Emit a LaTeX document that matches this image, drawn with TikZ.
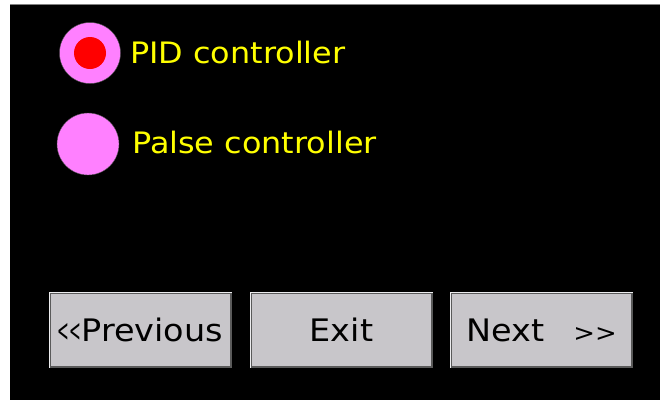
\documentclass[tikz,border=0pt]{standalone}
\usepackage{fontspec}
\usepackage{graphicx}
\newfontfamily\panelfont[FakeStretch=1.08]{DejaVu Sans}
\usetikzlibrary{positioning}
\definecolor{radiopink}{RGB}{255,128,255}
\definecolor{btngray}{RGB}{200,198,202}
\definecolor{btnshade}{RGB}{90,90,90}
\definecolor{btnlight}{RGB}{236,236,238}
\definecolor{lblyellow}{RGB}{255,255,0}

\begin{document}
\begin{tikzpicture}[x=1pt, y=-1pt,
  radio/.style={circle, draw=gray!60!black, fill=radiopink, minimum size=61pt, inner sep=0pt},
  radiodot/.style={circle, fill=red, minimum size=32pt, inner sep=0pt},
  optlabel/.style={anchor=base west, inner sep=0pt, text=lblyellow, font=\panelfont\fontsize{29.5}{31}\selectfont},
  btn/.style={draw=btnshade, line width=1.2pt, fill=btngray, minimum width=181pt, minimum height=74pt, inner sep=0pt, font=\panelfont\fontsize{31}{33}\selectfont}
]
  \useasboundingbox (0,0) rectangle (660,400);
  \fill[white] (0,0) rectangle (660,400);
  % screen
  \fill[black] (10,5) rectangle (660,400);
  \draw[gray, line width=1.5pt] (10,4.5) -- (660,4.5);

  % radio buttons
  \node[radio] (pid) at (90,53) {};
  \node[radiodot] (piddot) at (pid.center) {};
  \node[radio, minimum size=62pt] (palse) at (88,144) {};
  \node[optlabel] (pidlbl) at (130,63) {PID controller};
  \node[optlabel] (palselbl) at (132,153) {Palse controller};

  % buttons
  \node[btn] (prev) at (140.5,330) {\scalebox{0.42}[1]{<<}Previous\hspace{10pt}};
  \node[btn] (exit) at (341.5,330) {Exit};
  \node[btn] (next) at (541.5,330) {Next\hspace{29pt}{\fontsize{24}{24}\selectfont>>}};
  \foreach \b in {prev, exit, next}
    \draw[btnlight, line width=1.2pt] (\b.south west) |- (\b.north east);
\end{tikzpicture}
\end{document}
